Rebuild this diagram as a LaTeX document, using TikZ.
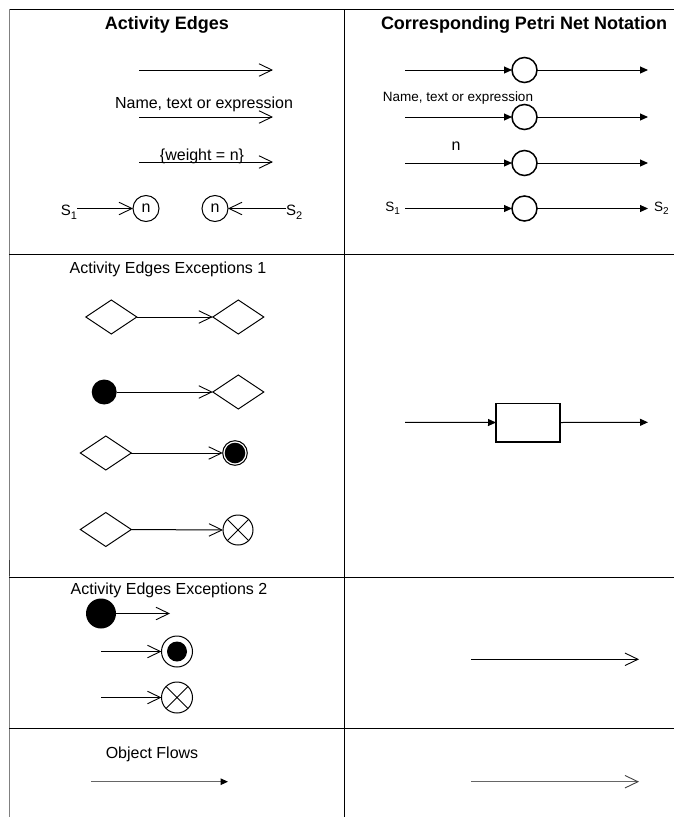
\documentclass[tikz,border=0pt]{standalone}
\usepackage{fontspec}
\setmainfont{Liberation Sans}
\usetikzlibrary{arrows.meta,shapes.geometric,calc}
\begin{document}
\begin{tikzpicture}[x=1pt,y=-1pt,
  every node/.style={inner sep=0pt, outer sep=0pt},
  gridline/.style={line width=1pt},
  openarr/.style={line width=1pt, -{Straight Barb[length=13pt,width=12.5pt,line width=0.9pt]}},
  filledarr/.style={line width=1pt, -{Triangle[length=8pt,width=7pt]}},
  hdr/.style={font=\fontsize{18}{20}\selectfont\bfseries},
  lbl/.style={font=\fontsize{16}{18}\selectfont},
  smalllbl/.style={font=\fontsize{13.5}{15}\selectfont},
  slbl/.style={font=\fontsize{15}{17}\selectfont},
  place/.style={circle, draw, line width=1.5pt, minimum size=25pt},
  token/.style={circle, draw, line width=1pt, minimum size=26pt, font=\fontsize{16}{18}\selectfont},
  dec/.style={diamond, draw, line width=1pt, minimum width=51pt, minimum height=34pt},
  startdot/.style={circle, fill=black, minimum size=#1},
  enddot/.style n args={2}{circle, draw, line width=1pt, minimum size=#1,
     path picture={\fill[black] (path picture bounding box.center) circle[radius=#2];}},
  flowend/.style={circle, draw, line width=1pt, minimum size=#1,
     path picture={\draw[line width=1pt] (path picture bounding box.north west) -- (path picture bounding box.south east)
        (path picture bounding box.north east) -- (path picture bounding box.south west);}},
  transbox/.style={rectangle, draw, line width=1.5pt, minimum width=64pt, minimum height=38.5pt}
]
\useasboundingbox (0,0) rectangle (674,817);

% table grid
\draw[gridline] (9,9) -- (674,9);
\draw[gridline, gray] (9.5,9) -- (9.5,817);
\draw[line width=1.6pt, black!75] (9.5,560) -- (9.5,576);
\draw[gridline] (344.5,9) -- (344.5,817);
\draw[gridline] (9,254) -- (674,254);
\draw[gridline] (9,577) -- (674,577);
\draw[gridline] (9,728) -- (674,728);

% ---------- Row 1 left ----------
\node[hdr, anchor=base] (h1) at (167,29.5) {Activity Edges};
\coordinate (a1s) at (139,70);  \coordinate (a1e) at (273,70);
\draw[openarr] (a1s) -- (a1e);
\node[lbl, anchor=base] (t1) at (204,108) {Name, text or expression};
\coordinate (a2s) at (139,117); \coordinate (a2e) at (273,117);
\draw[openarr] (a2s) -- (a2e);
\node[lbl, anchor=base] (t2) at (202,160.5) {\{weight = n\}};
\coordinate (a3s) at (139,162); \coordinate (a3e) at (273,162);
\draw[openarr] (a3s) -- (a3e);

\node[token] (n1) at (146,208.5) {n};
\node[token] (n2) at (215,208.5) {n};
\node[slbl, anchor=base east] (s1l) at (77,215.5) {S\raisebox{-3.5pt}{\fontsize{11}{12}\selectfont 1}};
\node[slbl, anchor=base west] (s2l) at (286,215.5) {S\raisebox{-3.5pt}{\fontsize{11}{12}\selectfont 2}};
\draw[openarr] (n1.west -| s1l.east) -- (n1.west);
\draw[openarr] (n2.east -| s2l.west) -- (n2.east);

% ---------- Row 1 right ----------
\node[hdr, anchor=base] (h2) at (524,29.5) {Corresponding Petri Net Notation};
\foreach \i/\y in {1/70,2/117,3/163} {
  \coordinate (pl\i) at (405,\y);
  \node[place] (pc\i) at (524.5,\y) {};
  \coordinate (pr\i) at (648,\y);
  \draw[filledarr] (pl\i) -- (pc\i);
  \draw[filledarr] (pc\i) -- (pr\i);
}
\node[smalllbl, anchor=base] (t3) at (458,101.5) {Name, text or expression};
\node[lbl, anchor=base] (t4) at (456,150.7) {n};
\node[place] (pc4) at (524.5,208.5) {};
\node[smalllbl, anchor=base east] (s1r) at (400,211) {S\raisebox{-3pt}{\fontsize{10}{11}\selectfont 1}};
\node[smalllbl, anchor=base west] (s2r) at (654,211) {S\raisebox{-3pt}{\fontsize{10}{11}\selectfont 2}};
\draw[filledarr] (pc4.west -| s1r.east) ++(5,0) -- (pc4.west);
\draw[filledarr] (pc4) -- ($(pc4.east -| s2r.west)+(-6,0)$);

% ---------- Row 2 left ----------
\node[lbl, anchor=base] (h3) at (168,273.3) {Activity Edges Exceptions 1};
\node[dec] (d1) at (111.3,317) {};
\node[dec] (d2) at (238.3,317) {};
\draw[openarr] (d1.east) -- (d2.west);

\node[startdot=25pt] (f1) at (104.2,392) {};
\node[dec] (d3) at (238.3,392) {};
\draw[openarr] (f1.east) -- (d3.west);

\node[dec] (d4) at (105.8,453) {};
\node[enddot={24.6pt}{10.3pt}] (b1) at (235,453) {};
\draw[openarr] (d4.east) -- (b1.west);

\node[dec] (d5) at (105.8,529.5) {};
\node[flowend=30pt] (x1) at (238,530) {};
\draw[openarr] (d5.east) -- (x1.west);

% ---------- Row 2 right ----------
\coordinate (ql) at (405,422.3);
\node[transbox] (tb) at (528,422.5) {};
\coordinate (qr) at (648,422.3);
\draw[filledarr] (ql) -- (tb.west);
\draw[filledarr] (tb.east) -- (qr);

% ---------- Row 3 left ----------
\node[lbl, anchor=base] (h4) at (169,594) {Activity Edges Exceptions 2};
\node[startdot=30pt] (f2) at (101,613.5) {};
\coordinate (e1) at (170,613.5);
\draw[openarr] (f2.east) -- (e1);

\coordinate (e2) at (101,651.5);
\node[enddot={31pt}{10pt}] (b2) at (177,651.5) {};
\draw[openarr] (e2) -- (b2.west);

\coordinate (e3) at (101,697.5);
\node[flowend=31pt] (x2) at (177,697.5) {};
\draw[openarr] (e3) -- (x2.west);

% ---------- Row 3 right ----------
\coordinate (r3s) at (471,659.3); \coordinate (r3e) at (639,659.3);
\draw[openarr] (r3s) -- (r3e);

% ---------- Row 4 ----------
\node[lbl, anchor=base] (h5) at (152,758.3) {Object Flows};
\coordinate (o1s) at (91,781.7); \coordinate (o1e) at (228,781.7);
\draw[line width=1.2pt, black!60, -{Triangle[length=7.5pt,width=6.5pt,fill=black,color=black]}] (o1s) -- (o1e);
\coordinate (o2s) at (471,781.7); \coordinate (o2e) at (639,781.7);
\draw[line width=1.2pt, black!60, -{Straight Barb[length=13pt,width=12.5pt,line width=0.9pt,color=black!75]}] (o2s) -- (o2e);
\end{tikzpicture}
\end{document}
